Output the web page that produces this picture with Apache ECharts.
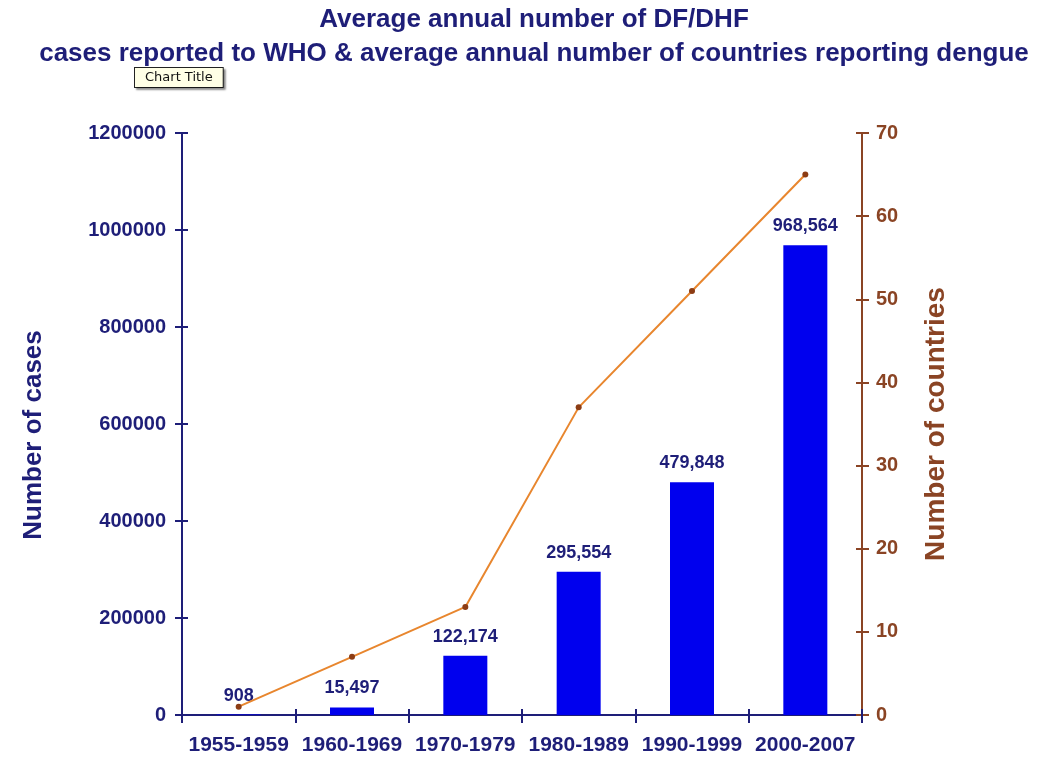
<!DOCTYPE html>
<html>
<head>
<meta charset="utf-8">
<script src="https://cdn.jsdelivr.net/npm/echarts@6/dist/echarts.min.js"></script>
<style>html,body{margin:0;padding:0;background:#fff}#c{width:1037px;height:757px}</style>
</head>
<body>
<div id="c"></div>
<script>
var categories = ['1955-1959', '1960-1969', '1970-1979', '1980-1989', '1990-1999', '2000-2007'];
var cases = [908, 15497, 122174, 295554, 479848, 968564];
var countries = [1, 7, 13, 37, 51, 65];
var titleLines = ['Average annual number of DF/DHF', 'cases reported to WHO & average annual number of countries reporting dengue'];

var NAVY = '#1e1e78';
var BROWN = '#8a4424';
var FONT = '"Liberation Sans", Arial, sans-serif';

var chart = echarts.init(document.getElementById('c'), null, {renderer: 'canvas'});

function leftAxis(extra) {
  return Object.assign({
    type: 'value', position: 'left', min: 0, max: 1200000, interval: 200000,
    splitLine: {show: false}
  }, extra);
}
function rightAxis(extra) {
  return Object.assign({
    type: 'value', position: 'right', min: 0, max: 70, interval: 10,
    splitLine: {show: false}
  }, extra);
}

chart.setOption({
  backgroundColor: '#ffffff',
  animation: false,
  title: {
    text: titleLines.join('\n'),
    left: 529, top: -2, textAlign: 'center',
    textStyle: {fontFamily: FONT, fontSize: 26, fontWeight: 'bold', color: NAVY, lineHeight: 34}
  },
  graphic: [{
    type: 'text', left: 134, top: 67, z: 100,
    style: {
      text: 'Chart Title', fontFamily: '"DejaVu Sans", sans-serif', fontSize: 13, fill: '#111',
      backgroundColor: '#ffffe6', borderColor: '#222', borderWidth: 1, padding: [3, 10, 3, 10],
      shadowColor: 'rgba(0,0,0,0.35)', shadowOffsetX: 2, shadowOffsetY: 2, shadowBlur: 2
    }
  }],
  grid: {left: 182, right: 175, top: 133, bottom: 42, containLabel: false},
  xAxis: [{
    type: 'category', data: categories, position: 'bottom',
    axisLine: {show: true, lineStyle: {color: NAVY, width: 2}},
    axisTick: {show: true, length: 8, lineStyle: {color: NAVY, width: 2}},
    axisLabel: {margin: 20, fontFamily: FONT, fontSize: 21, fontWeight: 'bold', color: NAVY, interval: 0}
  }, {
    type: 'category', data: categories, position: 'bottom',
    axisLine: {show: false},
    axisTick: {show: true, inside: true, length: 6, lineStyle: {color: NAVY, width: 2}},
    axisLabel: {show: false}
  }],
  yAxis: [
    leftAxis({
      name: 'Number of cases', nameLocation: 'middle', nameGap: 135, nameRotate: 90,
      nameTextStyle: {fontFamily: FONT, fontSize: 26, fontWeight: 'bold', color: NAVY, padding: [0, 22, 0, 0]},
      axisLine: {show: true, lineStyle: {color: NAVY, width: 2}},
      axisTick: {show: true, length: 7, lineStyle: {color: NAVY, width: 2}},
      axisLabel: {margin: 16, fontFamily: FONT, fontSize: 20, fontWeight: 'bold', color: NAVY,
        formatter: function (v) { return String(v); }}
    }),
    rightAxis({
      name: 'Number of countries', nameLocation: 'middle', nameGap: 60, nameRotate: 90,
      nameTextStyle: {fontFamily: FONT, fontSize: 28, fontWeight: 'bold', color: BROWN},
      axisLine: {show: true, lineStyle: {color: BROWN, width: 2}},
      axisTick: {show: true, length: 7, lineStyle: {color: BROWN, width: 2}},
      axisLabel: {margin: 14, fontFamily: FONT, fontSize: 20, fontWeight: 'bold', color: BROWN}
    }),
    leftAxis({
      axisLine: {show: false},
      axisTick: {show: true, inside: true, length: 6, lineStyle: {color: NAVY, width: 2}},
      axisLabel: {show: false}
    }),
    rightAxis({
      axisLine: {show: false},
      axisTick: {show: true, inside: true, length: 6, lineStyle: {color: BROWN, width: 2}},
      axisLabel: {show: false}
    })
  ],
  series: [{
    name: 'Number of cases', type: 'bar', data: cases, xAxisIndex: 0, yAxisIndex: 0,
    barWidth: 44,
    itemStyle: {color: '#0000ee'},
    label: {
      show: true, position: 'top', distance: 10,
      fontFamily: FONT, fontSize: 18, fontWeight: 'bold', color: NAVY,
      formatter: function (p) { return p.value.toLocaleString('en-US'); }
    }
  }, {
    name: 'Number of countries', type: 'line', data: countries, xAxisIndex: 0, yAxisIndex: 1,
    symbol: 'circle', symbolSize: 6, z: 3,
    lineStyle: {color: '#e8862e', width: 2},
    itemStyle: {color: '#8c3c14'}
  }]
});
</script>
</body>
</html>
